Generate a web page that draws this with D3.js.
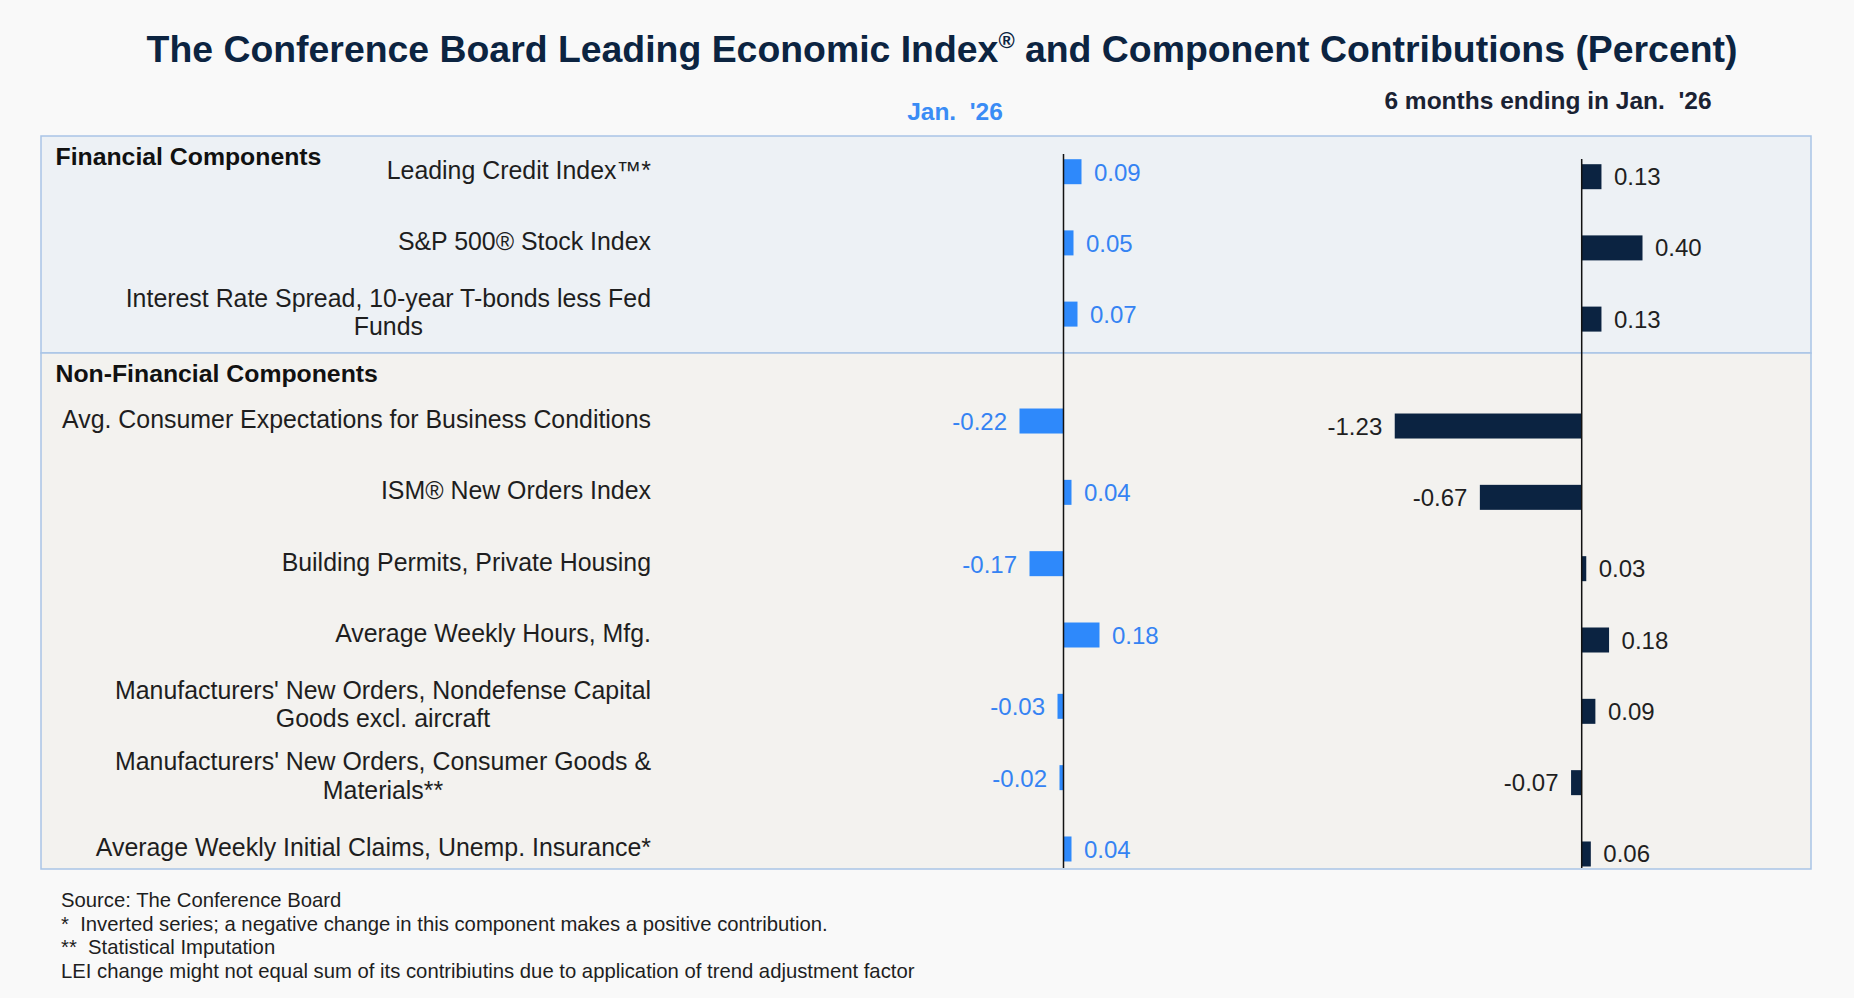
<!DOCTYPE html>
<html>
<head>
<meta charset="utf-8">
<script src="https://cdn.jsdelivr.net/npm/d3@7"></script>
<style>
  body { margin: 0; background: #f9f9f9; }
  svg { display: block; font-family: 'Liberation Sans', Arial, sans-serif; }
  text { white-space: pre; }
</style>
</head>
<body>
<svg id="svg" width="1854" height="998"></svg>
<script>

// component labels, one entry per line of the wrapped label
const financialComponents = [
  ['Leading Credit Index™*'],
  ['S&P 500® Stock Index'],
  ['Interest Rate Spread, 10-year T-bonds less Fed', 'Funds']
]
const nonFinancialComponents = [
  ['Avg. Consumer Expectations for Business Conditions'],
  ['ISM® New Orders Index'],
  ['Building Permits, Private Housing'],
  ['Average Weekly Hours, Mfg.'],
  ["Manufacturers' New Orders, Nondefense Capital", 'Goods excl. aircraft'],
  ["Manufacturers' New Orders, Consumer Goods &", 'Materials**'],
  ['Average Weekly Initial Claims, Unemp. Insurance*']
]

// contributions, Jan. '26
const financialMonth = [0.09, 0.05, 0.07]
const nonFinancialMonth = [-0.22, 0.04, -0.17, 0.18, -0.03, -0.02, 0.04]

// contributions, 6 months ending in Jan. '26
const financialSixMonths = [0.13, 0.40, 0.13]
const nonFinancialSixMonths = [-1.23, -0.67, 0.03, 0.18, 0.09, -0.07, 0.06]

const groupNames = ['Financial Components', 'Non-Financial Components']
const columnTitles = ["Jan.  '26", "6 months ending in Jan.  '26"]
const chartTitle = ['The Conference Board Leading Economic Index', '®', ' and Component Contributions (Percent)']
const footnotes = [
  'Source: The Conference Board',
  '*  Inverted series; a negative change in this component makes a positive contribution.',
  '**  Statistical Imputation',
  'LEI change might not equal sum of its contribiutins due to application of trend adjustment factor'
]

function drawChart() {
  const blue = '#2e89fb'
  const navy = '#0b2341'
  const box = { left: 41, right: 1811, top: 136, split: 353, bottom: 869 }
  const labelRight = 651
  const barHeight = 25
  const sixOffset = 5

  const svg = d3.select('#svg')

  const key = lines => lines.join(' ')

  const yFin = d3.scalePoint()
    .domain(financialComponents.map(key))
    .range([136.1, 349.7])
    .padding(0.5)
  const yNon = d3.scalePoint()
    .domain(nonFinancialComponents.map(key))
    .range([385.35, 884.65])
    .padding(0.5)

  const xMonth = d3.scaleLinear().domain([-1, 1]).range([863.5, 1263.5])
  const xSix = d3.scaleLinear().domain([-1.5, 1.5]).range([1353.7, 1809.7])

  const rows = financialComponents.map((lines, i) => ({
    lines, month: financialMonth[i], six: financialSixMonths[i], y: yFin(key(lines))
  })).concat(nonFinancialComponents.map((lines, i) => ({
    lines, month: nonFinancialMonth[i], six: nonFinancialSixMonths[i], y: yNon(key(lines))
  })))

  // panels
  svg.append('rect')
    .attr('x', box.left).attr('y', box.top)
    .attr('width', box.right - box.left).attr('height', box.split - box.top)
    .attr('fill', '#edf1f5').attr('stroke', '#a9c4e6').attr('stroke-width', 1.5)
  svg.append('rect')
    .attr('x', box.left).attr('y', box.split)
    .attr('width', box.right - box.left).attr('height', box.bottom - box.split)
    .attr('fill', '#f3f2ef').attr('stroke', '#a9c4e6').attr('stroke-width', 1.5)

  // title
  const title = svg.append('text')
    .attr('x', 942).attr('y', 62)
    .attr('text-anchor', 'middle')
    .attr('font-weight', 'bold')
    .attr('font-size', 37.4)
    .attr('fill', '#0c2441')
  title.append('tspan').text(chartTitle[0])
  title.append('tspan').text(chartTitle[1]).attr('font-size', 22).attr('dy', -14)
  title.append('tspan').text(chartTitle[2]).attr('dy', 14)

  svg.append('text')
    .text(columnTitles[0])
    .attr('x', 955).attr('y', 120)
    .attr('text-anchor', 'middle')
    .attr('font-weight', 'bold').attr('font-size', 24.5)
    .attr('fill', '#3a8cf5')
  svg.append('text')
    .text(columnTitles[1])
    .attr('x', 1548).attr('y', 109)
    .attr('text-anchor', 'middle')
    .attr('font-weight', 'bold').attr('font-size', 24.5)
    .attr('fill', '#1a2233')

  // group headers
  svg.selectAll('.group')
    .data(groupNames)
    .enter()
    .append('text')
    .attr('class', 'group')
    .text(d => d)
    .attr('x', 55.5)
    .attr('y', (d, i) => i === 0 ? 165 : 382)
    .attr('font-weight', 'bold').attr('font-size', 24.8)
    .attr('fill', '#111')

  // component labels
  const labels = svg.append('g')
    .attr('font-size', 24.9)
    .attr('fill', '#1e1e1e')
  rows.forEach(row => {
    const t = labels.append('text')
    if (row.lines.length === 1) {
      t.attr('text-anchor', 'end')
        .attr('x', labelRight)
        .attr('y', row.y + 7)
        .text(row.lines[0])
    } else {
      t.attr('text-anchor', 'middle')
      row.lines.forEach((line, j) => {
        t.append('tspan')
          .attr('y', row.y - 7.5 + j * 28.5)
          .text(line)
      })
      const widest = d3.max(t.selectAll('tspan').nodes(), n => n.getComputedTextLength())
      t.selectAll('tspan').attr('x', labelRight - widest / 2)
    }
  })

  // bars, Jan. '26
  const monthGroup = svg.append('g')
  monthGroup.selectAll('rect')
    .data(rows)
    .enter()
    .append('rect')
    .attr('x', d => Math.min(xMonth(0), xMonth(d.month)))
    .attr('y', d => d.y - barHeight / 2)
    .attr('width', d => Math.abs(xMonth(d.month) - xMonth(0)))
    .attr('height', barHeight)
    .attr('fill', blue)
  monthGroup.selectAll('text')
    .data(rows)
    .enter()
    .append('text')
    .text(d => d.month.toFixed(2))
    .attr('x', d => d.month < 0 ? xMonth(d.month) - 12.5 : xMonth(d.month) + 12.5)
    .attr('y', d => d.y + 9)
    .attr('text-anchor', d => d.month < 0 ? 'end' : 'start')
    .attr('font-size', 24)
    .attr('fill', '#3583f3')

  // bars, 6 months
  const sixGroup = svg.append('g')
  sixGroup.selectAll('rect')
    .data(rows)
    .enter()
    .append('rect')
    .attr('x', d => Math.min(xSix(0), xSix(d.six)))
    .attr('y', d => d.y + sixOffset - barHeight / 2)
    .attr('width', d => Math.abs(xSix(d.six) - xSix(0)))
    .attr('height', barHeight)
    .attr('fill', navy)
  sixGroup.selectAll('text')
    .data(rows)
    .enter()
    .append('text')
    .text(d => d.six.toFixed(2))
    .attr('x', d => d.six < 0 ? xSix(d.six) - 12.5 : xSix(d.six) + 12.5)
    .attr('y', d => d.y + sixOffset + 8.5)
    .attr('text-anchor', d => d.six < 0 ? 'end' : 'start')
    .attr('font-size', 24)
    .attr('fill', '#1f1f1f')

  // zero lines
  svg.append('line')
    .attr('x1', xMonth(0)).attr('x2', xMonth(0))
    .attr('y1', 154).attr('y2', 868)
    .attr('stroke', '#111').attr('stroke-width', 1.5)
  svg.append('line')
    .attr('x1', xSix(0)).attr('x2', xSix(0))
    .attr('y1', 159).attr('y2', 868)
    .attr('stroke', '#111').attr('stroke-width', 1.5)

  // footnotes
  svg.append('g')
    .selectAll('text')
    .data(footnotes)
    .enter()
    .append('text')
    .text(d => d)
    .attr('x', 61)
    .attr('y', (d, i) => 907 + i * 23.6)
    .attr('font-size', 20.3)
    .attr('fill', '#1e1e1e')
}

drawChart()
</script>
</body>
</html>
